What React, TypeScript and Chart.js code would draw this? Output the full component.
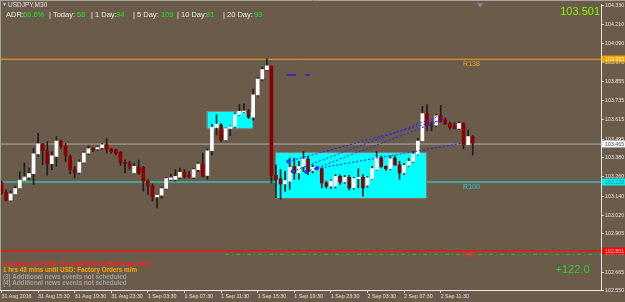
import React, { useEffect, useRef } from "react";
import { Chart, registerables } from "chart.js";

Chart.register(...registerables);

// ---- candle data (USDJPY, M30) ----
const opens = [
  103.224, 103.162, 103.115, 103.155, 103.192, 103.238, 103.258, 103.281, 103.404, 103.466,
  103.423, 103.343, 103.388, 103.484, 103.455, 103.387, 103.306, 103.289, 103.352, 103.408,
  103.435, 103.435, 103.443, 103.460, 103.435, 103.429, 103.414, 103.351, 103.343, 103.285,
  103.320, 103.320, 103.238, 103.203, 103.135, 103.147, 103.188, 103.244, 103.244, 103.258,
  103.289, 103.270, 103.258, 103.306, 103.340, 103.270, 103.423, 103.568, 103.583, 103.490,
  103.562, 103.574, 103.648, 103.665, 103.669, 103.632, 103.771, 103.870, 103.928, 103.950,
  103.270, 103.248, 103.217, 103.234, 103.326, 103.285, 103.326, 103.371, 103.299, 103.320,
  103.312, 103.223, 103.203, 103.203, 103.264, 103.229, 103.258, 103.192, 103.250, 103.258,
  103.209, 103.250, 103.306, 103.377, 103.326, 103.312, 103.377, 103.336, 103.285, 103.332,
  103.357, 103.402, 103.484, 103.655, 103.583, 103.583, 103.640, 103.614, 103.593, 103.579,
  103.562, 103.593, 103.460, 103.511,
];
const highs = [
  103.234, 103.182, 103.172, 103.203, 103.291, 103.346, 103.316, 103.439, 103.531, 103.469,
  103.480, 103.418, 103.511, 103.490, 103.469, 103.398, 103.326, 103.367, 103.418, 103.455,
  103.443, 103.453, 103.469, 103.497, 103.439, 103.433, 103.418, 103.367, 103.357, 103.346,
  103.365, 103.326, 103.244, 103.217, 103.155, 103.197, 103.258, 103.279, 103.306, 103.316,
  103.306, 103.295, 103.316, 103.351, 103.408, 103.435, 103.590, 103.648, 103.593, 103.566,
  103.579, 103.660, 103.710, 103.716, 103.681, 103.808, 103.880, 103.942, 103.997, 103.952,
  103.336, 103.306, 103.295, 103.377, 103.377, 103.357, 103.418, 103.388, 103.336, 103.326,
  103.316, 103.234, 103.244, 103.275, 103.275, 103.270, 103.270, 103.258, 103.312, 103.275,
  103.264, 103.326, 103.418, 103.390, 103.330, 103.390, 103.390, 103.357, 103.345, 103.377,
  103.418, 103.500, 103.700, 103.710, 103.603, 103.650, 103.706, 103.628, 103.603, 103.599,
  103.603, 103.599, 103.552, 103.517,
];
const lows = [
  103.152, 103.110, 103.110, 103.152, 103.188, 103.234, 103.244, 103.213, 103.388, 103.336,
  103.270, 103.306, 103.326, 103.439, 103.357, 103.279, 103.254, 103.279, 103.346, 103.398,
  103.418, 103.424, 103.435, 103.408, 103.408, 103.398, 103.332, 103.285, 103.306, 103.279,
  103.275, 103.172, 103.152, 103.110, 103.065, 103.127, 103.182, 103.238, 103.234, 103.250,
  103.254, 103.254, 103.250, 103.295, 103.258, 103.244, 103.398, 103.521, 103.480, 103.484,
  103.517, 103.566, 103.644, 103.660, 103.623, 103.614, 103.763, 103.860, 103.922, 103.223,
  103.131, 103.121, 103.172, 103.182, 103.244, 103.244, 103.295, 103.275, 103.285, 103.306,
  103.192, 103.192, 103.188, 103.192, 103.213, 103.220, 103.180, 103.182, 103.192, 103.141,
  103.197, 103.244, 103.300, 103.320, 103.300, 103.306, 103.330, 103.244, 103.275, 103.326,
  103.350, 103.395, 103.480, 103.546, 103.546, 103.575, 103.603, 103.585, 103.558, 103.558,
  103.555, 103.435, 103.455, 103.398,
];
const closes = [
  103.162, 103.115, 103.155, 103.188, 103.240, 103.260, 103.281, 103.404, 103.466, 103.423,
  103.340, 103.392, 103.484, 103.453, 103.392, 103.306, 103.285, 103.352, 103.408, 103.435,
  103.429, 103.443, 103.460, 103.435, 103.418, 103.408, 103.351, 103.343, 103.326, 103.326,
  103.285, 103.234, 103.203, 103.135, 103.147, 103.188, 103.250, 103.254, 103.264, 103.289,
  103.264, 103.262, 103.306, 103.340, 103.264, 103.423, 103.569, 103.589, 103.490, 103.562,
  103.572, 103.648, 103.669, 103.671, 103.632, 103.771, 103.870, 103.928, 103.952, 103.270,
  103.244, 103.217, 103.238, 103.320, 103.285, 103.326, 103.371, 103.295, 103.320, 103.312,
  103.223, 103.203, 103.234, 103.264, 103.229, 103.258, 103.192, 103.250, 103.258, 103.192,
  103.254, 103.312, 103.381, 103.326, 103.312, 103.373, 103.336, 103.285, 103.332, 103.357,
  103.402, 103.484, 103.655, 103.583, 103.580, 103.640, 103.607, 103.593, 103.568, 103.562,
  103.593, 103.460, 103.511, 103.470,
];

// ---- axes ----
const xTickIndex = [0, 8, 16, 24, 32, 40, 48, 56, 64, 72, 80, 88, 96];
const xTickLabels = [
  "31 Aug 2016", "31 Aug 15:30", "31 Aug 19:30", "31 Aug 23:30", "1 Sep 03:30",
  "1 Sep 07:30", "1 Sep 11:30", "1 Sep 15:30", "1 Sep 19:30", "1 Sep 23:30",
  "2 Sep 03:30", "2 Sep 07:30", "2 Sep 11:30",
];
const yTickLabels = [
  "104.330", "104.210", "104.090", "103.970", "103.855", "103.735", "103.615", "103.495",
  "103.380", "103.260", "103.140", "103.020", "102.905", "102.785", "102.665", "102.550",
];
const X_MIN = -0.328;
const X_MAX = 131.04;
const Y_MIN = 102.556;
const Y_MAX = 104.336;
const shiftIndex = 104.6;

// ---- levels ----
const levelPrices = [103.993, 103.465, 103.228, 102.801];
const levelTags = ["R138", "", "R100", "R80"];
const tagIndex = 100.9;
const signalPrice = 102.778;
const signalStart = 48.9;

// ---- zones ----
const zoneStart = [44.85, 59.85];
const zoneEnd = [54.9, 92.94];
const zoneHigh = [103.671, 103.414];
const zoneLow = [103.562, 103.127];

// ---- trend lines ----
const trendStartX = [62.7, 63.65, 66.6, 68.9];
const trendStartY = [103.357, 103.295, 103.291, 103.312];
const trendEndX = [97.3, 95.1, 95.8, 100.6];
const trendEndY = [103.624, 103.634, 103.609, 103.47];
const markStartX = [62.4, 66.5];
const markEndX = [64.4, 67.4];
const markPrice = 103.895;

// ---- texts ----
const symbolTitle = "USDJPY,M30";
const headerTexts = ["ADR:", "66.6%", "| Today:", "58", "| 1 Day:", "94", "| 5 Day:", "109", "| 10 Day:", "81", "| 20 Day:", "93"];
const currentPrice = "103.501";
const profitText = "+122.0";
const newsTexts = [
  "13 mins until USD: Average Hourly Earnings m/m",
  "1 hrs 43 mins until USD: Factory Orders m/m",
  "(3) Additional news events not scheduled",
  "(4) Additional news events not scheduled",
];

// ---- styles ----
const FONT = '"Liberation Sans", Arial, sans-serif';
const BG = "#6b5b4b";
const levelColors = ["#f0a21c", "#acacac", "#3ea49c", "#f01414"];
const levelWidths = [1, 1, 2, 1.5];
const tagColors = ["#eaa428", "", "#3cc8c8", "#ff2424"];
const boxBg = ["#f2a200", "#f0f0f0", "#00eeee", "#ff0000"];
const boxFg = ["#fff4d8", "#686868", "#178a8a", "#ffe0e0"];
const headerX = [6, 23, 49, 77, 91, 116, 133, 161, 177, 206, 223, 254];
const newsColors = ["#ff2020", "#ffa500", "#a0a0a0", "#a0a0a0"];

export default function App() {
  const ref = useRef<HTMLCanvasElement>(null);

  useEffect(() => {
    const canvas = ref.current;
    if (!canvas) return;

    const wickData = highs.map((h, i) => ({ x: i, y: [lows[i], h] }));
    const bodyData = opens.map((o, i) => ({
      x: i,
      y: [Math.min(o, closes[i]), Math.max(o, closes[i])],
    }));
    const bodyColors = opens.map((o, i) => (closes[i] >= o ? "#ffffff" : "#8c0000"));

    const datasets: any[] = [];
    levelPrices.forEach((p, k) => {
      datasets.push({
        type: "line",
        data: [{ x: X_MIN, y: p }, { x: X_MAX, y: p }],
        borderColor: levelColors[k],
        borderWidth: levelWidths[k],
        pointRadius: 0,
        order: 20,
      });
    });
    datasets.push({
      type: "line",
      data: [{ x: signalStart, y: signalPrice }, { x: X_MAX, y: signalPrice }],
      borderColor: "#2fb82f",
      borderWidth: 1,
      borderDash: [4, 3, 1, 3],
      pointRadius: 0,
      order: 19,
    });
    const wickIndex = datasets.length;
    datasets.push({
      type: "bar",
      data: wickData,
      backgroundColor: "#1e1e1e",
      barThickness: 1,
      grouped: false,
      order: 10,
    });
    datasets.push({
      type: "bar",
      data: bodyData,
      backgroundColor: bodyColors,
      borderWidth: 0,
      barThickness: 3,
      grouped: false,
      order: 9,
    });
    trendStartX.forEach((x0, k) => {
      datasets.push({
        type: "line",
        data: [{ x: x0, y: trendStartY[k] }, { x: trendEndX[k], y: trendEndY[k] }],
        borderColor: "#2424ff",
        borderWidth: 1,
        borderDash: [2, 2],
        pointRadius: [2, 0],
        pointBackgroundColor: "#3030ff",
        pointBorderWidth: 0,
        order: 1,
      });
    });
    markStartX.forEach((x0, k) => {
      datasets.push({
        type: "line",
        data: [{ x: x0, y: markPrice }, { x: markEndX[k], y: markPrice }],
        borderColor: "#2020e0",
        borderWidth: 1.5,
        pointRadius: 0,
        order: 1,
      });
    });

    const zonePlugin = {
      id: "zones",
      beforeDatasetDraw(chart: any, args: any) {
        if (args.index !== wickIndex) return;
        const { ctx, scales } = chart;
        const sx = scales.x;
        const sy = scales.y;
        ctx.save();
        zoneStart.forEach((x0, k) => {
          const l = sx.getPixelForValue(x0);
          const r = sx.getPixelForValue(zoneEnd[k]);
          const t = sy.getPixelForValue(zoneHigh[k]);
          const b = sy.getPixelForValue(zoneLow[k]);
          ctx.fillStyle = "#00ffff";
          ctx.fillRect(l, t, r - l, b - t);
          ctx.strokeStyle = "rgba(190,80,70,0.7)";
          ctx.lineWidth = 1;
          ctx.strokeRect(Math.round(l) + 0.5, Math.round(t) + 0.5, Math.round(r - l), Math.round(b - t));
        });
        ctx.restore();
      },
    };

    const overlayPlugin = {
      id: "overlay",
      afterDraw(chart: any) {
        const { ctx, scales, chartArea } = chart;
        const sx = scales.x;
        const sy = scales.y;
        ctx.save();
        // frame
        ctx.strokeStyle = "#a8a298";
        ctx.lineWidth = 1;
        ctx.beginPath();
        ctx.moveTo(0, 0.5);
        ctx.lineTo(chart.width, 0.5);
        ctx.moveTo(0.5, 0);
        ctx.lineTo(0.5, chartArea.bottom);
        ctx.stroke();
        // level tags
        ctx.font = `7px ${FONT}`;
        ctx.textBaseline = "middle";
        ctx.textAlign = "left";
        levelPrices.forEach((p, k) => {
          if (!levelTags[k]) return;
          ctx.fillStyle = tagColors[k];
          ctx.fillText(levelTags[k], sx.getPixelForValue(tagIndex), sy.getPixelForValue(p) + 4.5);
        });
        // price boxes on axis
        ctx.font = `5.3px ${FONT}`;
        levelPrices.forEach((p, k) => {
          const py = sy.getPixelForValue(p);
          ctx.fillStyle = boxBg[k];
          ctx.fillRect(chartArea.right + 1, Math.round(py) - 3.5, chart.width - chartArea.right - 1, 7);
          ctx.fillStyle = boxFg[k];
          ctx.fillText(p.toFixed(3), chartArea.right + 4, py + 0.5);
        });
        // shift marker
        const mx = sx.getPixelForValue(shiftIndex);
        ctx.fillStyle = "#8494a6";
        ctx.beginPath();
        ctx.moveTo(mx - 3, chartArea.top - 1);
        ctx.lineTo(mx + 3, chartArea.top - 1);
        ctx.lineTo(mx, chartArea.top + 3);
        ctx.closePath();
        ctx.fill();
        ctx.restore();
      },
    };

    const chart = new Chart(canvas, {
      type: "bar",
      data: { datasets },
      options: {
        animation: false,
        responsive: false,
        devicePixelRatio: 1,
        events: [],
        layout: { padding: { top: 1, left: 0, right: 0, bottom: 0 }, autoPadding: false },
        plugins: { legend: { display: false }, tooltip: { enabled: false }, title: { display: false } },
        scales: {
          x: {
            type: "linear",
            min: X_MIN,
            max: X_MAX,
            offset: false,
            afterFit(scale: any) {
              scale.height = 12;
            },
            afterBuildTicks(scale: any) {
              scale.ticks = xTickIndex.map((v) => ({ value: v }));
            },
            grid: { display: true, drawOnChartArea: false, drawTicks: true, tickLength: 3, color: "#d0d0d0", offset: false },
            border: { display: true, color: "#e4e4e4", width: 1 },
            ticks: {
              autoSkip: false,
              maxRotation: 0,
              minRotation: 0,
              align: "start",
              padding: 0,
              color: "#e4e4e4",
              font: { family: FONT, size: 5.3 },
              callback: (_v: any, i: number) => xTickLabels[i],
            },
          },
          y: {
            type: "linear",
            position: "right",
            min: Y_MIN,
            max: Y_MAX,
            afterFit(scale: any) {
              scale.width = 24;
            },
            afterBuildTicks(scale: any) {
              scale.ticks = yTickLabels.map((t) => ({ value: parseFloat(t) }));
            },
            grid: { display: true, drawOnChartArea: false, drawTicks: true, tickLength: 3, color: "#d0d0d0" },
            border: { display: true, color: "#e4e4e4", width: 1 },
            ticks: {
              autoSkip: false,
              padding: 1,
              crossAlign: "near",
              color: "#e4e4e4",
              font: { family: FONT, size: 5.3 },
              callback: (_v: any, i: number) => yTickLabels[i],
            },
          },
        },
      } as any,
      plugins: [zonePlugin, overlayPlugin],
    });

    return () => chart.destroy();
  }, []);

  const abs = (extra: React.CSSProperties): React.CSSProperties => ({
    position: "absolute",
    whiteSpace: "nowrap",
    lineHeight: 1,
    fontFamily: FONT,
    ...extra,
  });

  return (
    <div style={{ position: "fixed", left: 0, top: 0, width: 625, height: 302, background: BG, overflow: "hidden" }}>
      <canvas ref={ref} width={625} height={302} style={{ display: "block", width: 625, height: 302 }} />
      <div style={abs({ left: 2, top: 2, fontSize: 5, color: "#d8d8d8" })}>▼</div>
      <div style={abs({ left: 8, top: 1.5, fontSize: 6.5, color: "#e0e0e0" })}>{symbolTitle}</div>
      {headerTexts.map((t, i) => (
        <div key={i} style={abs({ left: headerX[i], top: 10.6, fontSize: 7.5, color: i % 2 ? "#22e822" : "#ececec" })}>
          {t}
        </div>
      ))}
      <div style={abs({ right: 25, top: 5.5, fontSize: 11, color: "#7cfc00" })}>{currentPrice}</div>
      <div style={abs({ right: 35.5, top: 263.5, fontSize: 11, color: "#2fd02f" })}>{profitText}</div>
      {newsTexts.map((t, i) => (
        <div key={i} style={abs({ left: 3, top: 260.8 + i * 6.5, fontSize: 6.3, fontWeight: "bold", color: newsColors[i] })}>
          {t}
        </div>
      ))}
    </div>
  );
}
